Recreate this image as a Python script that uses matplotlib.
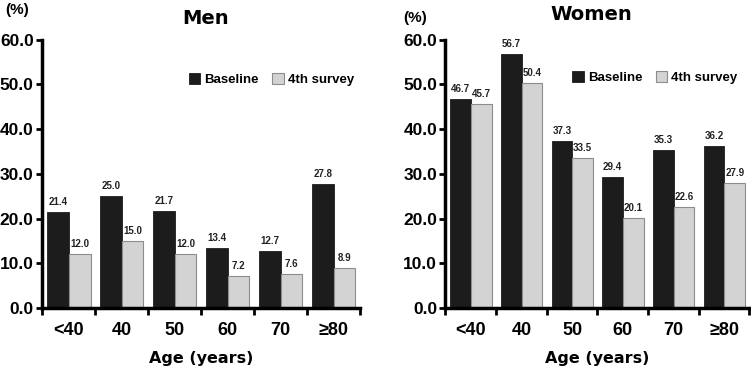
import numpy as np
import matplotlib.pyplot as plt

ages = ['<40', '40', '50', '60', '70', '≥80']
men_base = [21.4, 25.0, 21.7, 13.4, 12.7, 27.8]
men_4th = [12.0, 15.0, 12.0, 7.2, 7.6, 8.9]
women_base = [46.7, 56.7, 37.3, 29.4, 35.3, 36.2]
women_4th = [45.7, 50.4, 33.5, 20.1, 22.6, 27.9]

plt.rcParams['font.family'] = ['Liberation Sans', 'DejaVu Sans']

fig = plt.figure(figsize=(7.51, 3.73), dpi=100)
ax1 = fig.add_axes([0.056, 0.174, 0.423, 0.72])
ax2 = fig.add_axes([0.593, 0.174, 0.405, 0.72])

def draw(ax, base, fourth, title, pct_pos, title_pos, leg_anchor):
    x = np.arange(len(ages))
    w = 0.41
    b1 = ax.bar(x - 0.2, base, w, color='#1c1c1c', edgecolor='#1c1c1c', linewidth=0.6, label='Baseline')
    b2 = ax.bar(x + 0.21, fourth, w, color='#d3d3d3', edgecolor='#8c8c8c', linewidth=0.8, label='4th survey')
    for r, v in zip(b1, base):
        ax.text(r.get_x() + r.get_width() / 2, v + 1.1, f'{v:.1f}', ha='center', va='bottom',
                fontsize=7, fontweight='bold', color='#222222')
    for r, v in zip(b2, fourth):
        ax.text(r.get_x() + r.get_width() / 2, v + 1.1, f'{v:.1f}', ha='center', va='bottom',
                fontsize=7, fontweight='bold', color='#222222')
    ax.set_xlim(-0.5, 5.5)
    ax.set_ylim(0, 60)
    ax.set_yticks(np.arange(0, 61, 10))
    ax.set_yticklabels([f'{t:.1f}' for t in np.arange(0, 61, 10)], fontsize=12.5, fontweight='bold')
    ax.set_xticks(x)
    ax.set_xticklabels(ages, fontsize=13, fontweight='bold')
    ax.set_xticks(np.arange(-0.5, 6, 1), minor=True)
    ax.tick_params(axis='x', which='major', length=0, pad=10)
    ax.tick_params(axis='x', which='minor', length=5, width=2, direction='out')
    ax.tick_params(axis='y', length=4, width=2, direction='out', pad=2)
    for s in ['top', 'right']:
        ax.spines[s].set_visible(False)
    for s in ['left', 'bottom']:
        ax.spines[s].set_linewidth(2.5)
    ax.set_xlabel('Age (years)', fontsize=11.5, fontweight='bold', family=['DejaVu Sans'], labelpad=9)
    ax.text(title_pos[0], title_pos[1], title, transform=ax.transAxes, ha='center', va='center',
            fontsize=14, fontweight='bold', family=['DejaVu Sans'])
    ax.text(pct_pos[0], pct_pos[1], '(%)', transform=ax.transAxes, ha='left', va='center',
            fontsize=11, fontweight='bold')
    ax.legend(loc='center right', bbox_to_anchor=leg_anchor, frameon=False,
              prop={'weight': 'bold', 'size': 9.5}, ncol=2, handlelength=0.9, handleheight=0.9,
              handletextpad=0.3, columnspacing=1.0)

draw(ax1, men_base, men_4th, 'Men', (-0.116, 1.11), (0.516, 1.08), (1.02, 0.85))
draw(ax2, women_base, women_4th, 'Women', (-0.14, 1.08), (0.48, 1.095), (1.0, 0.86))

fig.savefig('out.png', dpi=100)
